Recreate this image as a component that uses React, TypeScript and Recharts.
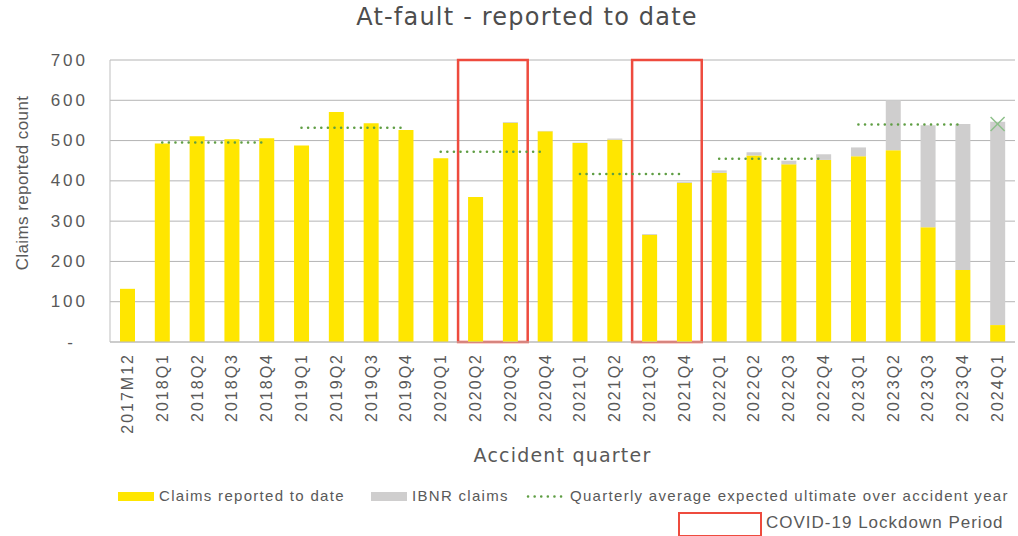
import React from 'react'
import {
  ComposedChart,
  Bar,
  Line,
  XAxis,
  YAxis,
  CartesianGrid,
  ReferenceArea,
  Legend,
  Label,
} from 'recharts'

const quarters = [
  '2017M12',
  '2018Q1', '2018Q2', '2018Q3', '2018Q4',
  '2019Q1', '2019Q2', '2019Q3', '2019Q4',
  '2020Q1', '2020Q2', '2020Q3', '2020Q4',
  '2021Q1', '2021Q2', '2021Q3', '2021Q4',
  '2022Q1', '2022Q2', '2022Q3', '2022Q4',
  '2023Q1', '2023Q2', '2023Q3', '2023Q4',
  '2024Q1',
]

const reported = [
  132,
  493, 511, 503, 506,
  488, 571, 543, 526,
  456, 360, 544, 523,
  494, 502, 266, 395,
  420, 463, 441, 452,
  461, 476, 285, 179,
  42,
]

const ibnr = [
  0,
  0, 0, 0, 0,
  0, 0, 0, 0,
  0, 0, 2, 1,
  1, 3, 2, 2,
  6, 8, 9, 14,
  22, 124, 253, 362,
  505,
]

const years = ['2018', '2019', '2020', '2021', '2022', '2023', '2024']
const expectedUltimate = [495, 532, 472, 417, 455, 540, 541]

const yTicks = [0, 100, 200, 300, 400, 500, 600, 700]

const lockdowns = [
  ['2020Q2', '2020Q3'],
  ['2021Q3', '2021Q4'],
]

const YELLOW = '#FFE600'
const GREY = '#CFCECE'
const GREEN = '#5F9E44'
const RED = '#EE4B3E'
const TEXT = '#595959'

// alternate years go to two series so that neighbouring years never join up
const data = quarters.map((q, i) => {
  const yi = years.indexOf(q.slice(0, 4))
  const row: any = { quarter: q, reported: reported[i], ibnr: ibnr[i] }
  if (yi === years.length - 1) row.expLast = expectedUltimate[yi]
  else if (yi >= 0) row[yi % 2 === 0 ? 'expA' : 'expB'] = expectedUltimate[yi]
  return row
})

const XTick = ({ x, y, payload }: any) => {
  const ty = y + 11
  return (
    <text
      x={x}
      y={ty}
      transform={`rotate(-90 ${x} ${ty})`}
      textAnchor="end"
      dominantBaseline="central"
      fill={TEXT}
      fontSize={16}
      letterSpacing={2}
      fontFamily="'Liberation Sans', Arial, sans-serif"
    >
      {payload.value}
    </text>
  )
}

const YTick = ({ x, y, payload }: any) => (
  <text
    x={payload.value === 0 ? x - 12 : x}
    y={y}
    textAnchor="end"
    dominantBaseline="central"
    fill={TEXT}
    fontSize={17}
    letterSpacing={3}
    fontFamily="'Liberation Sans', Arial, sans-serif"
  >
    {payload.value === 0 ? '-' : payload.value}
  </text>
)

const YTitle = ({ viewBox }: any) => {
  const cx = viewBox.x + 22
  const cy = viewBox.y + viewBox.height / 2 - 18
  return (
    <text
      x={cx}
      y={cy}
      transform={`rotate(-90 ${cx} ${cy})`}
      textAnchor="middle"
      dominantBaseline="central"
      fill={TEXT}
      fontSize={17}
      letterSpacing={0.4}
      fontFamily="'Liberation Sans', Arial, sans-serif"
    >
      Claims reported count
    </text>
  )
}

const CrossDot = ({ cx, cy }: any) => {
  if (cx == null || cy == null) return <g />
  const s = 7
  return (
    <g stroke="#8DC08A" strokeWidth={1.5}>
      <line x1={cx - s} y1={cy - s} x2={cx + s} y2={cy + s} />
      <line x1={cx - s} y1={cy + s} x2={cx + s} y2={cy - s} />
    </g>
  )
}

const legendFont = "'Liberation Sans', Arial, sans-serif"
const row1Text = { position: 'absolute' as const, top: 1, fontSize: 15, letterSpacing: 1.3, whiteSpace: 'nowrap' as const }

const LegendBox = () => (
  <div style={{ position: 'relative', width: 1018, height: 50, color: TEXT, fontFamily: legendFont }}>
    <div style={{ position: 'absolute', left: 118, top: 6, width: 36, height: 9, background: YELLOW }} />
    <span style={{ ...row1Text, left: 159 }}>Claims reported to date</span>
    <div style={{ position: 'absolute', left: 371, top: 6, width: 36, height: 9, background: GREY }} />
    <span style={{ ...row1Text, left: 412 }}>IBNR claims</span>
    <svg style={{ position: 'absolute', left: 526, top: 6 }} width={40} height={9}>
      <line x1={2} y1={4.5} x2={40} y2={4.5} stroke={GREEN} strokeWidth={2.5} strokeDasharray="0.1 6.5" strokeLinecap="round" />
    </svg>
    <span style={{ ...row1Text, left: 570 }}>Quarterly average expected ultimate over accident year</span>
    <div style={{ position: 'absolute', left: 678, top: 26, width: 80, height: 21, border: `2px solid ${RED}` }} />
    <span style={{ position: 'absolute', left: 766, top: 27, fontSize: 17, letterSpacing: 1, whiteSpace: 'nowrap' }}>
      COVID-19 Lockdown Period
    </span>
  </div>
)

export default function App() {
  return (
    <div style={{ position: 'absolute', left: 0, top: 0, width: 1018, height: 536, overflow: 'hidden', background: '#fff' }}>
      <div
        style={{
          position: 'absolute',
          left: 18,
          top: 2,
          width: 1018,
          textAlign: 'center',
          fontFamily: "'DejaVu Sans', Verdana, sans-serif",
          fontSize: 24,
          letterSpacing: 1.2,
          lineHeight: '30px',
          color: '#4d4d4d',
        }}
      >
        At-fault - reported to date
      </div>
      <ComposedChart
        width={1018}
        height={536}
        data={data}
        margin={{ top: 60, right: 3, left: 0, bottom: 0 }}
        barSize={15}
      >
        <CartesianGrid vertical={false} stroke="#B4B4B4" />
        <XAxis
          dataKey="quarter"
          interval={0}
          height={144}
          tickLine={false}
          tickSize={0}
          tickMargin={0}
          axisLine={{ stroke: '#BFBFBF' }}
          tick={<XTick />}
        >
          <Label
            value="Accident quarter"
            position="insideBottom"
            offset={24}
            fill={TEXT}
            fontSize={19}
            letterSpacing={1.2}
            fontFamily="'DejaVu Sans', Verdana, sans-serif"
          />
        </XAxis>
        <YAxis
          width={110}
          domain={[0, 700]}
          ticks={yTicks}
          tickLine={false}
          tickSize={0}
          tickMargin={22}
          axisLine={{ stroke: '#BFBFBF' }}
          tick={<YTick />}
        >
          <Label content={<YTitle />} />
        </YAxis>
        <Bar dataKey="reported" stackId="a" fill={YELLOW} isAnimationActive={false} />
        <Bar dataKey="ibnr" stackId="a" fill={GREY} isAnimationActive={false} />
        <Line
          dataKey="expA"
          stroke={GREEN}
          strokeWidth={2.5}
          strokeDasharray="0.1 6.5"
          strokeLinecap="round"
          dot={false}
          activeDot={false}
          connectNulls={false}
          isAnimationActive={false}
        />
        <Line
          dataKey="expB"
          stroke={GREEN}
          strokeWidth={2.5}
          strokeDasharray="0.1 6.5"
          strokeLinecap="round"
          dot={false}
          activeDot={false}
          connectNulls={false}
          isAnimationActive={false}
        />
        <Line
          dataKey="expLast"
          stroke="none"
          dot={<CrossDot />}
          activeDot={false}
          isAnimationActive={false}
        />
        {lockdowns.map(([a, b]) => (
          <ReferenceArea
            key={a}
            x1={a}
            x2={b}
            y1={0}
            y2={700}
            fill="none"
            fillOpacity={0}
            stroke={RED}
            strokeWidth={2.5}
            strokeOpacity={1}
            ifOverflow="visible"
          />
        ))}
        <Legend
          verticalAlign="bottom"
          content={<LegendBox />}
          wrapperStyle={{ left: 0, width: 1018, height: 50 }}
        />
      </ComposedChart>
    </div>
  )
}
